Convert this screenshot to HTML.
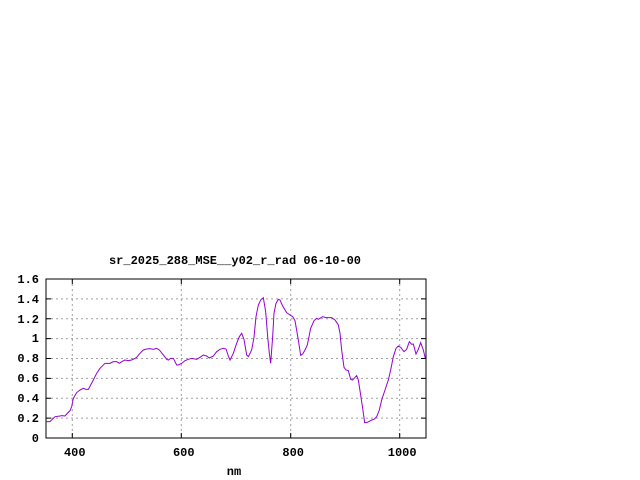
<!DOCTYPE html>
<html><head><meta charset="utf-8"><style>
html,body{margin:0;padding:0;background:#fff;width:640px;height:480px;overflow:hidden}
text{font-family:"Liberation Mono",monospace;font-weight:bold;font-size:12px;fill:#000}
</style></head><body>
<svg width="640" height="480" xmlns="http://www.w3.org/2000/svg">
<g stroke="#a0a0a0" stroke-width="1" stroke-dasharray="2,3" fill="none">
<line x1="46" y1="418.1" x2="426" y2="418.1"/><line x1="46" y1="398.3" x2="426" y2="398.3"/>
<line x1="46" y1="378.4" x2="426" y2="378.4"/><line x1="46" y1="358.5" x2="426" y2="358.5"/>
<line x1="46" y1="338.6" x2="426" y2="338.6"/><line x1="46" y1="318.8" x2="426" y2="318.8"/>
<line x1="46" y1="298.9" x2="426" y2="298.9"/>
<line x1="72.3" y1="279" x2="72.3" y2="438"/><line x1="181.3" y1="279" x2="181.3" y2="438"/>
<line x1="290.7" y1="279" x2="290.7" y2="438"/><line x1="399.7" y1="279" x2="399.7" y2="438"/>
</g>
<rect x="46" y="279" width="380" height="159" fill="none" stroke="#000" stroke-width="1"/>
<g stroke="#000" stroke-width="1">
<path d="M46 418.1h5M46 398.3h5M46 378.4h5M46 358.5h5M46 338.6h5M46 318.8h5M46 298.9h5M426 418.1h-5M426 398.3h-5M426 378.4h-5M426 358.5h-5M426 338.6h-5M426 318.8h-5M426 298.9h-5M72.3 438v-5M181.3 438v-5M290.7 438v-5M399.7 438v-5M72.3 279v5M181.3 279v5M290.7 279v5M399.7 279v5"/>
</g>
<g text-anchor="end">
<text x="39" y="442">0</text><text x="39" y="422">0.2</text><text x="39" y="402">0.4</text>
<text x="39" y="382">0.6</text><text x="39" y="362">0.8</text><text x="39" y="342">1</text>
<text x="39" y="323">1.2</text><text x="39" y="303">1.4</text><text x="39" y="283">1.6</text>
</g>
<g text-anchor="middle">
<text x="74.8" y="456">400</text><text x="183.8" y="456">600</text><text x="293.2" y="456">800</text><text x="402.2" y="456">1000</text>
<text x="234" y="475">nm</text>
<text x="235" y="264">sr_2025_288_MSE__y02_r_rad 06-10-00</text>
</g>
<g transform="translate(0,250) scale(0.33333)">
<polyline fill="none" stroke="#9400d3" stroke-width="1" vector-effect="non-scaling-stroke" points="138,515 150,515 165,500 180,498 185,497 195,498 200,492 210,482 215,470 220,445 230,428 240,420 250,415 258,418 265,418 272,405 280,390 290,370 300,355 315,340 330,340 340,335 350,335 358,340 365,335 375,330 385,332 395,330 405,325 410,322 420,310 430,300 440,297 450,296 460,298 470,295 478,300 490,315 500,328 505,330 512,325 520,325 530,345 535,345 545,340 555,332 565,328 575,325 590,328 600,322 610,315 620,318 628,324 640,318 650,305 660,298 670,295 678,297 685,318 690,330 700,310 710,280 718,260 725,250 732,268 740,315 745,320 755,300 762,262 768,200 775,165 782,150 790,143 797,185 803,260 808,310 812,340 818,260 822,190 828,160 835,148 840,150 848,168 860,188 870,195 878,200 885,212 895,270 902,316 908,312 915,300 922,285 932,235 942,212 950,205 955,208 960,205 968,200 978,203 995,203 1005,210 1015,225 1020,250 1025,300 1032,352 1038,360 1045,362 1052,388 1058,390 1065,382 1070,377 1075,390 1082,435 1088,475 1094,518 1100,518 1108,514 1115,510 1122,508 1130,500 1138,480 1145,450 1155,420 1165,390 1172,360 1180,320 1188,295 1195,288 1202,292 1212,305 1220,298 1228,275 1235,283 1240,282 1248,312 1255,298 1262,278 1270,300 1276,325"/>
</g>
</svg>
</body></html>
